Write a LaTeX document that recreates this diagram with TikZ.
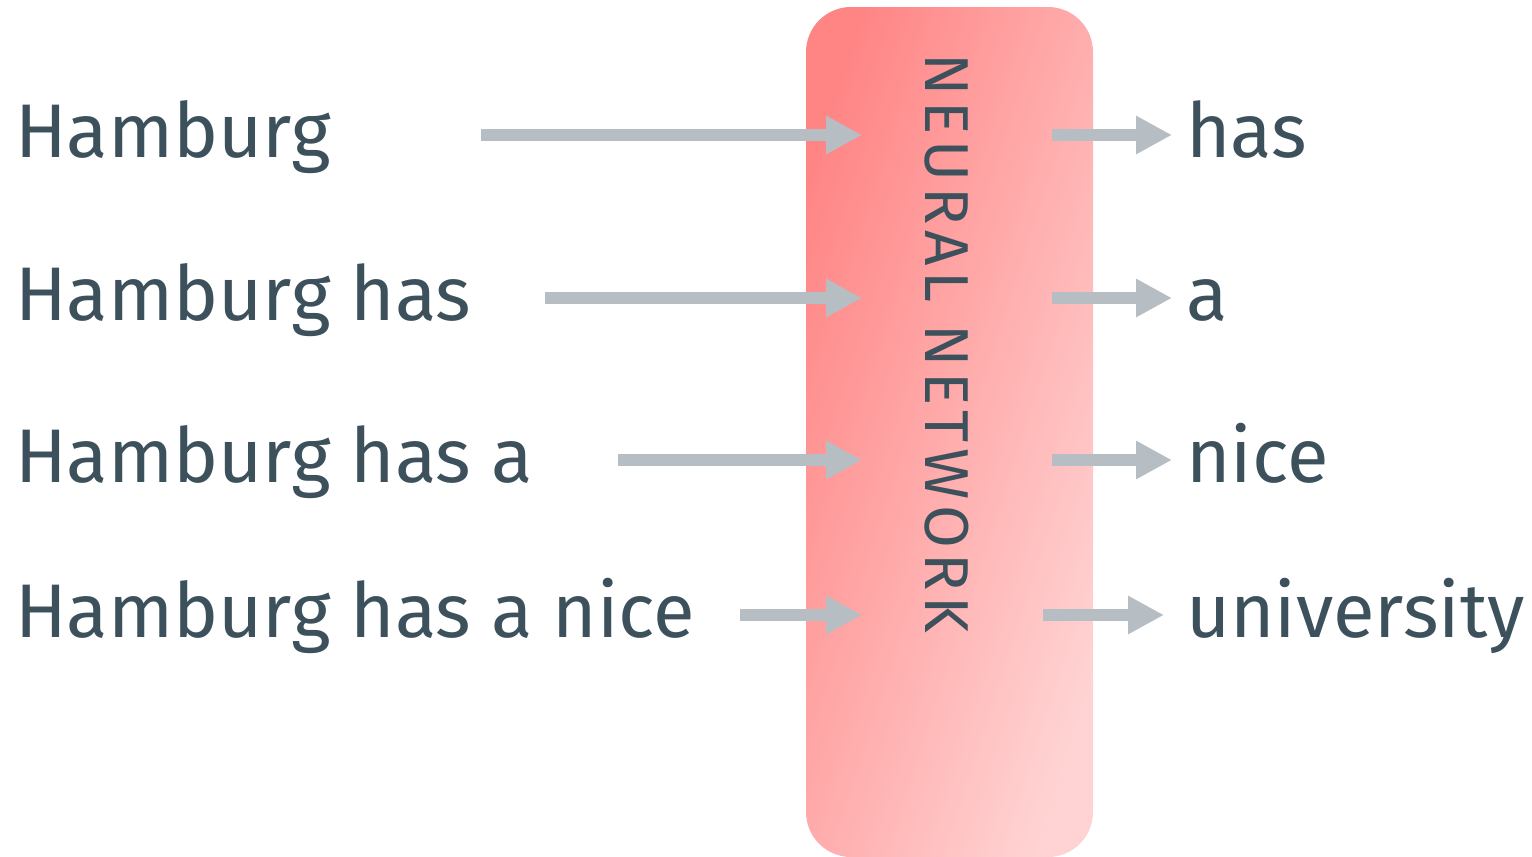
\documentclass[tikz,border=0pt]{standalone}
\usepackage{fontspec}
\setmainfont{Fira Sans}
\usetikzlibrary{arrows.meta, positioning}
\definecolor{netRed}{RGB}{255, 133, 133}
\definecolor{netPink}{RGB}{255, 211, 211}
\definecolor{arrowGray}{RGB}{182, 190, 195}
\definecolor{wordSlate}{RGB}{61, 81, 92}
\tikzset{
    % Words left and right of the network
    word/.style={
        font=\fontsize{76}{90}\selectfont,
        text=wordSlate,
        inner sep=0pt,
        anchor=base west
    },
    % The network block
    netBox/.style={
        rectangle,
        rounded corners=45pt,
        minimum width=287pt,
        minimum height=850pt,
        top color=netRed,
        bottom color=netPink,
        shading angle=72
    },
    netLabel/.style={
        font=\fontsize{62}{70}\selectfont\addfontfeature{LetterSpace=9},
        text=wordSlate,
        inner sep=0pt,
        rotate=-90
    },
    % Arrow Style
    arrow/.style={-{Triangle[length=36pt, width=36pt]}, line width=12pt, draw=arrowGray}
}

\begin{document}
\begin{tikzpicture}[x=1pt, y=-1pt]
    \useasboundingbox (0,0) rectangle (1532,857);

    % --- Network in the middle ---
    \node (net) [netBox] at (949.5,432) {};
    \node (netText) [netLabel] at (946.5,343.5) {NEURAL NETWORK};
    \coordinate (netIn) at (862,0);
    \coordinate (netOut) at (1052,0);

    % --- Inputs ---
    \node (ctx1) [word] at (15,157) {Hamburg};
    \node (ctx2) [word] at (15,320) {Hamburg has};
    \node (ctx3) [word] at (15,482) {Hamburg has a};
    \node (ctx4) [word] at (15,637) {Hamburg has a nice};

    % arrow tails, one per row
    \coordinate (src1) at (481,135);
    \coordinate (src2) at (545,298);
    \coordinate (src3) at (618,460);
    \coordinate (src4) at (740,615);

    % --- Predicted words ---
    \node (has) [word] at (1186,157) {has};
    \node (a) [word] at (1186,320) {a};
    \node (nice) [word] at (1186,482) {nice};
    \node (university) [word] at (1186,637) {university};

    % --- Arrows into the network ---
    \draw [arrow] (src1) -- (netIn |- src1);
    \draw [arrow] (src2) -- (netIn |- src2);
    \draw [arrow] (src3) -- (netIn |- src3);
    \draw [arrow] (src4) -- (netIn |- src4);

    % --- Arrows out of the network ---
    \draw [arrow, shorten >=14pt] (netOut |- src1) -- (has.west |- src1);
    \draw [arrow, shorten >=14pt] (netOut |- src2) -- (a.west |- src2);
    \draw [arrow, shorten >=14pt] (netOut |- src3) -- (nice.west |- src3);
    \draw [arrow, shorten >=22pt] ([xshift=-9pt]netOut |- src4) -- (university.west |- src4);

\end{tikzpicture}
\end{document}
